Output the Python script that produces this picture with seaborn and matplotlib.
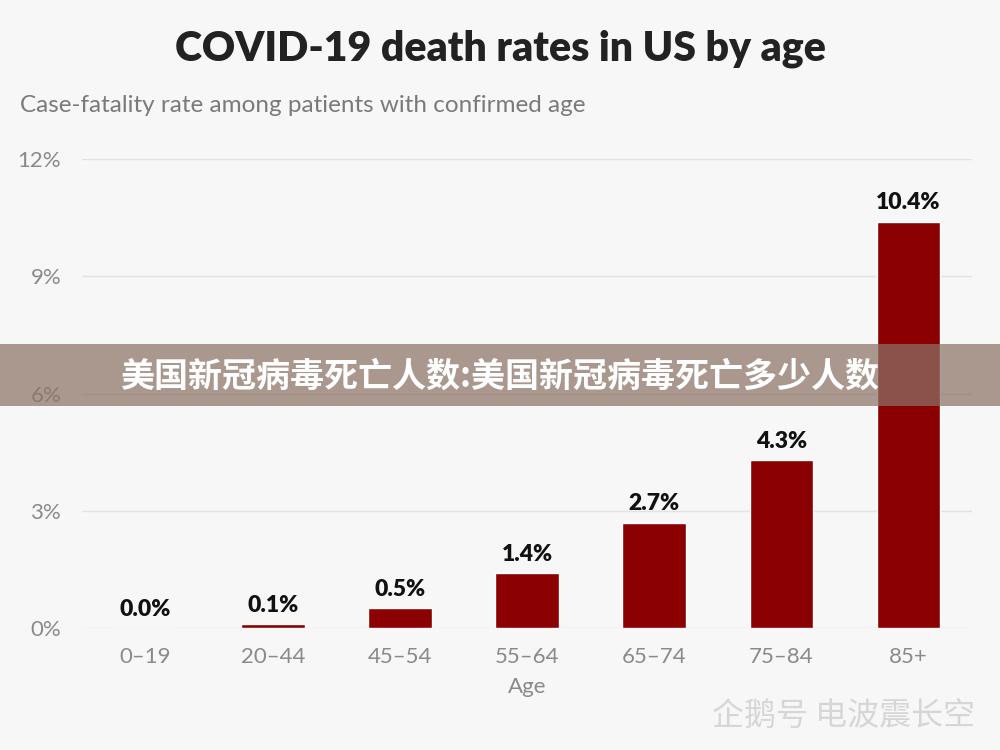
import matplotlib
matplotlib.use('Agg')
import matplotlib.pyplot as plt
import seaborn as sns
import pandas as pd

sns.set_theme(style='white')
plt.rcParams['font.family'] = ['Lato', 'Noto Sans CJK SC', 'DejaVu Sans']

AGE_GROUPS = ['0\u201319', '20\u201344', '45\u201354', '55\u201364', '65\u201374', '75\u201384', '85+']
RATES = [0.0, 0.1, 0.5, 1.4, 2.7, 4.3, 10.4]
Y_TICKS = [0, 3, 6, 9, 12]

BG = '#f7f7f7'
BAR = '#8b0000'

df = pd.DataFrame({'age': AGE_GROUPS, 'rate': RATES})

fig = plt.figure(figsize=(10, 7.5), dpi=100, facecolor=BG)
ax = fig.add_axes([0.082, 0.1627, 0.89, 0.625])
ax.set_facecolor(BG)

sns.barplot(data=df, x='age', y='rate', color=BAR, width=0.5, saturation=1, ax=ax)

ax.set_xlim(-0.5, 6.5)
ax.set_ylim(0, 12)
ax.set_yticks(Y_TICKS)
ax.set_yticklabels([f'{t}%' for t in Y_TICKS])
ax.yaxis.grid(True, color='#e2e2e2', linewidth=1)
ax.set_axisbelow(True)
for s in ax.spines.values():
    s.set_visible(False)
ax.tick_params(axis='both', length=0, labelsize=16, colors='#8a8a8a')
ax.tick_params(axis='y', pad=15)
ax.tick_params(axis='x', pad=14)
ax.set_xlabel('Age', fontsize=16, color='#8a8a8a', labelpad=7)
ax.set_ylabel('')

for i, v in enumerate(RATES):
    ax.annotate(f'{v:.1f}%', (i, v), xytext=(0, 6), textcoords='offset points',
                ha='center', va='bottom', fontsize=16.5, fontweight='heavy', color='#111111')

fig.text(0.5, 0.935, 'COVID-19 death rates in US by age', ha='center', va='center',
         fontsize=29.5, fontweight='heavy', color='#222222')
fig.text(0.02, 0.86, 'Case-fatality rate among patients with confirmed age', ha='left',
         va='center', fontsize=17.5, color='#7a7a7a')

# overlay banner
fig.patches.append(plt.Rectangle((0, 1 - 406 / 750), 1, 62 / 750, transform=fig.transFigure,
                                 facecolor='#8c7366', alpha=0.72, edgecolor='none', zorder=5))
fig.text(0.5, 1 - 376 / 750, '美国新冠病毒死亡人数:美国新冠病毒死亡多少人数', ha='center', va='center',
         fontsize=24.5, fontweight='black', color='white', zorder=6,
         family=['Noto Sans CJK SC', 'DejaVu Sans'])

# watermark
fig.text(0.975, 1 - 716 / 750, '企鹅号 电波震长空', ha='right', va='center', fontsize=23,
         color='#d6d6d6', family=['Noto Sans CJK SC', 'DejaVu Sans'])

fig.savefig('out.png', dpi=100, facecolor=BG)
